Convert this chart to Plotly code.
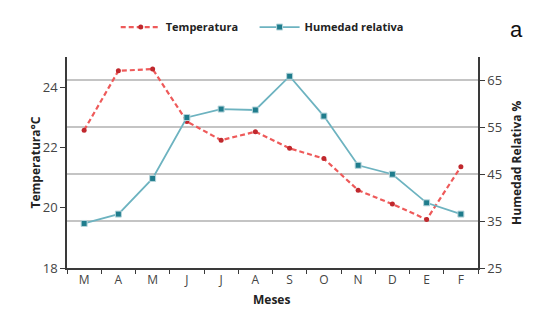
import plotly.graph_objects as go

months = ["M", "A", "M", "J", "J", "A", "S", "O", "N", "D", "E", "F"]
month_ids = [f"{m}{i}" for i, m in enumerate(months)]
temperatura = [22.57, 24.54, 24.6, 22.86, 22.24, 22.52, 21.97, 21.63, 20.58, 20.12, 19.61, 21.36]
humedad = [34.5, 36.5, 44.1, 57.1, 58.9, 58.7, 65.9, 57.4, 46.9, 45.0, 38.9, 36.5]
left_ticks = [18, 20, 22, 24]
right_ticks = [25, 35, 45, 55, 65]

font_family = "Open Sans, Noto Sans, sans-serif"
axis_color = "#3a3a3a"

fig = go.Figure()
fig.add_trace(go.Scatter(
    x=month_ids, y=temperatura, name="<b>Temperatura</b>&nbsp;&nbsp;&nbsp;&nbsp;", yaxis="y",
    mode="lines+markers",
    line=dict(color="#ee5a5a", width=2.2, dash="5px,3px"),
    marker=dict(symbol="circle", size=5, color="#c0282d"),
))
fig.add_trace(go.Scatter(
    x=month_ids, y=humedad, name="<b>Humedad relativa</b>", yaxis="y2",
    mode="lines+markers",
    line=dict(color="#6db3c0", width=1.8),
    marker=dict(symbol="square", size=6, color="#1f7c8c",
                line=dict(color="#b8d6dc", width=1)),
))

fig.update_layout(
    width=560, height=325,
    margin=dict(l=67, r=82, t=57, b=57),
    paper_bgcolor="white", plot_bgcolor="white",
    font=dict(family=font_family, size=12, color="#333"),
    showlegend=True,
    legend=dict(orientation="h", x=0.475, y=1.142, xanchor="center", yanchor="middle",
                font=dict(size=11, color="#222", family=font_family),
                itemwidth=40, traceorder="normal", bgcolor="rgba(0,0,0,0)"),
    xaxis=dict(
        type="category", range=[-0.5, 11.5],
        tickvals=month_ids, ticktext=months,
        tickson="boundaries", ticks="outside", ticklen=4, tickcolor=axis_color,
        showline=True, linecolor=axis_color, linewidth=1.5,
        showgrid=False, zeroline=False,
        tickfont=dict(size=12, color="#444"),
    ),
    yaxis=dict(
        range=[18, 25], tickvals=left_ticks,
        ticks="outside", ticklen=5, tickcolor=axis_color,
        showline=True, linecolor=axis_color, linewidth=1.5,
        showgrid=False, zeroline=False,
        tickfont=dict(size=13, color="#444"),
    ),
    yaxis2=dict(
        range=[25, 70], tickvals=right_ticks, overlaying="y", side="right",
        ticks="outside", ticklen=5, tickcolor=axis_color,
        showline=True, linecolor=axis_color, linewidth=1.5,
        showgrid=True, gridcolor="#c4c4c4", gridwidth=2, zeroline=False,
        tickfont=dict(size=13, color="#444"),
    ),
    annotations=[
        dict(text="<b>Temperatura°C</b>", x=-0.102, y=0.498, xref="paper", yref="paper",
             textangle=-90, showarrow=False, font=dict(size=12, color="#222")),
        dict(text="<b>Humedad Relativa %</b>", x=1.119, y=0.5, xref="paper", yref="paper",
             textangle=-90, showarrow=False, font=dict(size=12, color="#222")),
        dict(text="<b>Meses</b>", x=0.497, y=-0.199, xref="paper", yref="paper",
             showarrow=False, font=dict(size=12, color="#222")),
        dict(text="a", x=1.114, y=1.199, xref="paper", yref="paper",
             showarrow=False, font=dict(size=22, color="#111", family="Liberation Sans, Arial, sans-serif")),
    ],
)

fig.write_html("out.html")
